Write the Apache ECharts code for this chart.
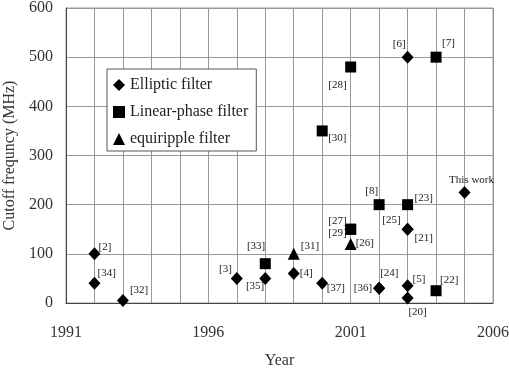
<!DOCTYPE html>
<html>
<head>
<meta charset="utf-8">
<script src="https://cdn.jsdelivr.net/npm/echarts@6/dist/echarts.min.js"></script>
<style>
  html, body { margin: 0; padding: 0; background: #fff; }
  #chart { width: 509px; height: 377px; }
</style>
</head>
<body>
<div id="chart"></div>
<script>
// data: year, cutoff frequency (MHz), reference tag
const ellipticYears = [1992, 1992, 1993, 1997, 1998, 1999, 2000, 2002, 2002, 2003, 2003, 2003, 2003, 2003, 2005]
const ellipticValues = [100, 40, 5, 50, 50, 60, 40, 30, 30, 35, 10, 150, 150, 500, 225]
const ellipticRefs = ['[2]', '[34]', '[32]', '[3]', '[35]', '[4]', '[37]', '[36]', '[24]', '[5]', '[20]', '[21]', '[25]', '[6]', 'This work']

const linearYears = [1998, 2000, 2001, 2001, 2001, 2002, 2003, 2004, 2004]
const linearValues = [80, 350, 480, 150, 150, 200, 200, 500, 25]
const linearRefs = ['[33]', '[30]', '[28]', '[27]', '[29]', '[8]', '[23]', '[7]', '[22]']

const equiYears = [1999, 2001]
const equiValues = [100, 120]
const equiRefs = ['[31]', '[26]']

const yearLabels = [1991, 1996, 2001, 2006]

// label placement: [position, dx, dy]
const labelPlace = {
  '[2]': ['right', -7, -6.5],
  '[34]': ['right', -8, -10],
  '[32]': ['right', -4, -10],
  '[3]': ['left', 6, -9],
  '[35]': ['left', 10, 8],
  '[4]': ['right', -5, 0],
  '[37]': ['right', -6.5, 5],
  '[36]': ['left', 4, 0],
  '[24]': ['right', -10, -15],
  '[5]': ['right', -6, -7],
  '[20]': ['bottom', 10, -3],
  '[21]': ['right', -4, 9],
  '[25]': ['left', 4, -9],
  '[6]': ['left', 9, -13],
  'This work': ['top', 7, 5],
  '[33]': ['left', 10.5, -17.5],
  '[30]': ['right', -4.5, 7],
  '[28]': ['left', 6.5, 18],
  '[27]': ['left', 6.5, -8],
  '[29]': ['left', 6.5, 4],
  '[8]': ['left', 9.5, -14],
  '[23]': ['right', -3.5, -7],
  '[7]': ['right', -4.5, -14],
  '[22]': ['right', -6.5, -11],
  '[31]': ['right', -4, -8],
  '[26]': ['right', -6, -1]
}

function points(years, values, refs) {
  return years.map((yr, i) => {
    const ref = refs[i]
    const p = labelPlace[ref]
    const item = { value: [yr, values[i]], name: ref }
    if (p) {
      item.label = { show: true, position: p[0], offset: [p[1], p[2]] }
    }
    return item
  })
}

const chart = echarts.init(document.getElementById('chart'))

const font = 'Liberation Serif'
const pointLabel = {
  show: false,
  formatter: params => params.name,
  fontFamily: font,
  fontSize: 11,
  color: '#222',
  distance: 5
}

chart.setOption({
  animation: false,
  textStyle: { fontFamily: font },
  grid: {
    left: 66,
    right: 16,
    top: 8,
    bottom: 74,
    outerBoundsMode: 'none',
    containLabel: false,
    show: true,
    borderColor: '#999',
    borderWidth: 1
  },
  legend: {
    orient: 'vertical',
    left: 107,
    top: 69,
    padding: [8, 8, 4, 6],
    itemGap: 11,
    itemWidth: 12,
    itemHeight: 12,
    backgroundColor: '#fff',
    borderColor: '#555',
    borderWidth: 1,
    borderRadius: 0,
    textStyle: { fontFamily: font, fontSize: 16, color: '#222' },
    data: [
      { name: 'Elliptic filter', icon: 'diamond' },
      { name: 'Linear-phase filter', icon: 'rect' },
      { name: 'equiripple filter', icon: 'triangle' }
    ]
  },
  xAxis: {
    type: 'value',
    min: 1991,
    max: 2006,
    interval: 1,
    name: 'Year',
    nameLocation: 'middle',
    nameGap: 50,
    nameTextStyle: { fontFamily: font, fontSize: 16, color: '#333' },
    axisLine: { lineStyle: { color: '#444' } },
    axisTick: { show: false },
    axisLabel: {
      margin: 22,
      fontFamily: font,
      fontSize: 16,
      color: '#333',
      formatter: v => (yearLabels.includes(v) ? String(v) : '')
    },
    splitLine: { show: true, lineStyle: { color: '#999' } }
  },
  yAxis: {
    type: 'value',
    min: 0,
    max: 600,
    interval: 100,
    name: 'Cutoff frequncy (MHz)',
    nameLocation: 'middle',
    nameGap: 48,
    nameTextStyle: { fontFamily: font, fontSize: 16, color: '#333' },
    axisLine: { show: true, lineStyle: { color: '#444' } },
    axisTick: { show: false },
    axisLabel: { margin: 13, fontFamily: font, fontSize: 16, color: '#333' },
    splitLine: { show: true, lineStyle: { color: '#999' } }
  },
  series: [
    {
      name: 'Elliptic filter',
      type: 'scatter',
      symbol: 'diamond',
      symbolSize: [12, 13],
      itemStyle: { color: '#000', opacity: 1 },
      label: pointLabel,
      data: points(ellipticYears, ellipticValues, ellipticRefs)
    },
    {
      name: 'Linear-phase filter',
      type: 'scatter',
      symbol: 'rect',
      symbolSize: 11,
      itemStyle: { color: '#000', opacity: 1 },
      label: pointLabel,
      data: points(linearYears, linearValues, linearRefs)
    },
    {
      name: 'equiripple filter',
      type: 'scatter',
      symbol: 'triangle',
      symbolSize: 12,
      itemStyle: { color: '#000', opacity: 1 },
      label: pointLabel,
      data: points(equiYears, equiValues, equiRefs)
    }
  ]
})
</script>
</body>
</html>
